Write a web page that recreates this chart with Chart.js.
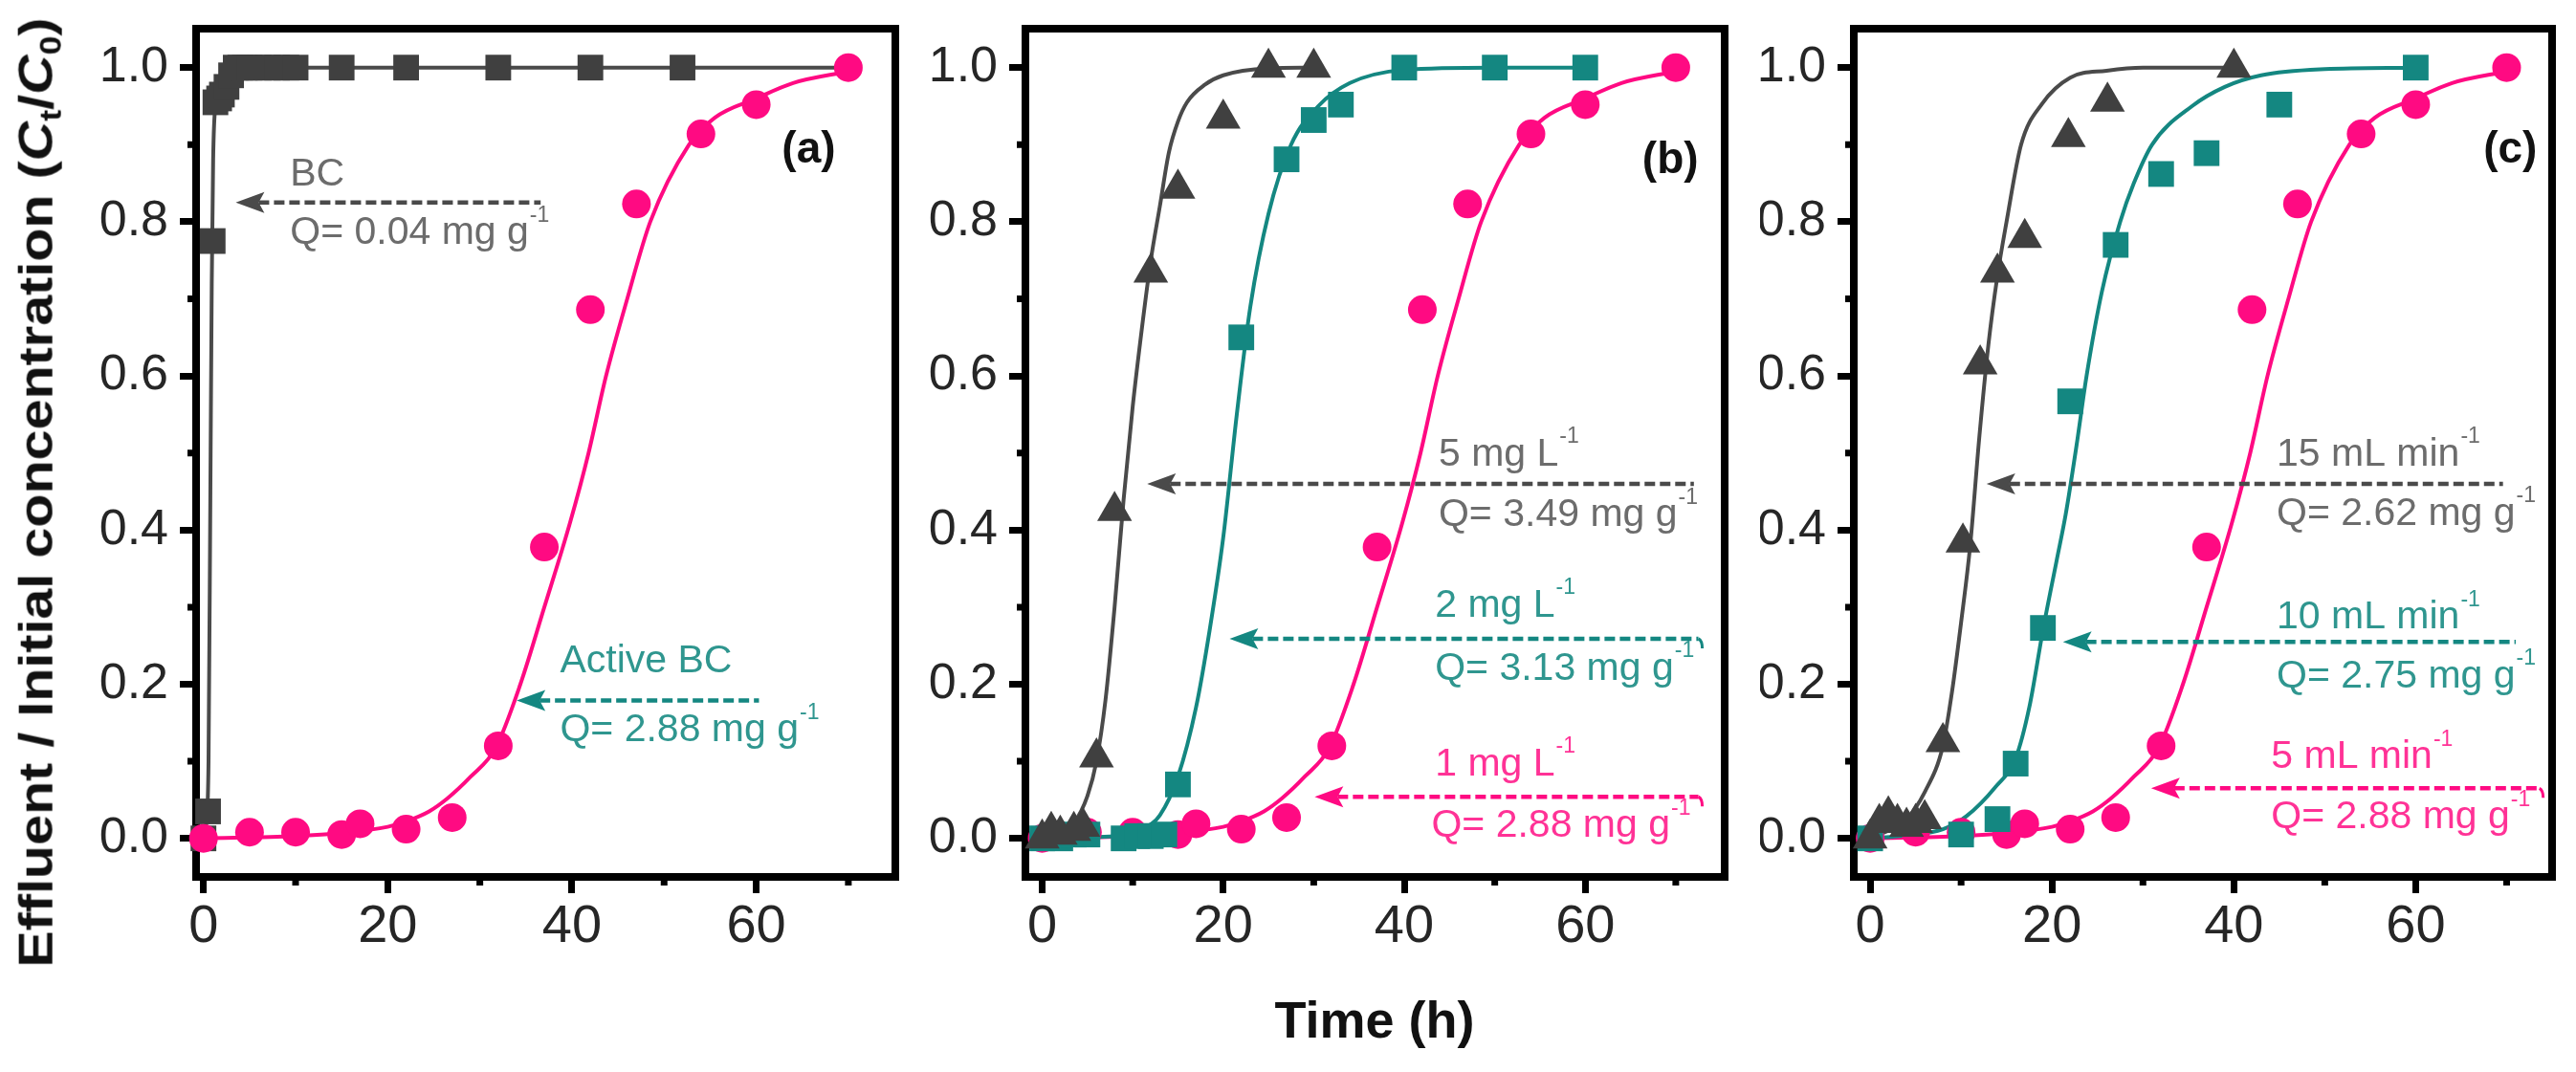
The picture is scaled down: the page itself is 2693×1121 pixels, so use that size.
<!DOCTYPE html>
<html>
<head>
<meta charset="utf-8">
<script src="https://cdn.jsdelivr.net/npm/chart.js@4.4.1/dist/chart.umd.min.js"></script>
<style>
  html, body { margin: 0; padding: 0; background: #fff; }
  #page { position: relative; width: 2693px; height: 1121px; overflow: hidden; background: #fff; }
  canvas { position: absolute; top: 0; }
  .title { position: absolute; white-space: nowrap; font-family: 'Liberation Sans', Arial, sans-serif; font-weight: bold; color: #111; }
  .title sub { font-size: 0.62em; vertical-align: -0.28em; }
  #ytitle { left: 40px; top: 515px; font-size: 50px; transform: translate(-50%, -50%) rotate(-90deg) scaleX(1.15); }
  #xtitle { left: 1437px; top: 1066px; font-size: 54px; transform: translate(-50%, -50%); }
</style>
</head>
<body>
<div id="page">
  <canvas id="pa" width="960" height="1121" style="left:0px"></canvas>
  <canvas id="pb" width="880" height="1121" style="left:960px"></canvas>
  <canvas id="pc" width="853" height="1121" style="left:1840px"></canvas>
  <div class="title" id="ytitle">Effluent / Initial concentration (<i>C</i><sub>t</sub>/<i>C</i><sub>0</sub>)</div>
  <div class="title" id="xtitle">Time (h)</div>
</div>
<script>
// axis ticks
const xTicks = [0, 10, 20, 30, 40, 50, 60, 70];
const yTicks = [0, 0.1, 0.2, 0.3, 0.4, 0.5, 0.6, 0.7, 0.8, 0.9, 1.0];

// Active BC / 1 mg L-1 / 5 mL min-1 (same run in all panels)
const pinkT = [0, 5, 10, 15, 17, 22, 27, 32, 37, 42, 47, 54, 60, 70];
const pinkC = [0, 0.008, 0.008, 0.005, 0.019, 0.012, 0.027, 0.12, 0.378, 0.686, 0.823, 0.914, 0.952, 1.0];
const pinkFitT = [0, 10, 15, 20, 22, 24.5, 26.5, 29, 31.7, 34.4, 37, 39.8, 41.8, 43.7, 46, 48.5, 52.7, 55.5, 60, 64, 70];
const pinkFitC = [0, 0.003, 0.007, 0.015, 0.022, 0.035, 0.052, 0.08, 0.117, 0.2, 0.3, 0.41, 0.5, 0.6, 0.7, 0.8, 0.9, 0.935, 0.96, 0.98, 0.995];

// (a) plain BC
const bcT = [0, 0.5, 1, 1.3, 1.7, 2, 2.5, 3, 3.5, 4, 4.5, 5, 6, 7, 8, 9, 10, 15, 22, 32, 42, 52];
const bcC = [0, 0.035, 0.775, 0.955, 0.96, 0.965, 0.975, 0.99, 1, 1, 1, 1, 1, 1, 1, 1, 1, 1, 1, 1, 1, 1];
const bcFitT = [0, 0.3, 0.55, 0.75, 0.9, 1.05, 1.3, 1.8, 2.5, 3.2, 4, 70];
const bcFitC = [0, 0.02, 0.1, 0.45, 0.72, 0.88, 0.95, 0.965, 0.98, 0.995, 1, 1];

// (b) 5 mg L-1
const b5T = [0, 1, 2, 3.5, 4.5, 6, 8, 12, 15, 20, 25, 30];
const b5C = [0, 0.01, 0.005, 0.01, 0.015, 0.105, 0.425, 0.734, 0.843, 0.934, 1.0, 1.0];
const b5FitT = [0, 2, 3.5, 5, 6, 7, 8, 9, 10, 11, 12, 13, 14, 15, 16, 18, 20, 25, 30];
const b5FitC = [0.002, 0.008, 0.02, 0.055, 0.1, 0.18, 0.3, 0.44, 0.56, 0.66, 0.75, 0.82, 0.89, 0.93, 0.955, 0.978, 0.99, 0.999, 1.0];
// (b) 2 mg L-1
const b2T = [0, 2, 3.5, 5, 9, 10.5, 12, 13.5, 15, 22, 27, 30, 33, 40, 50, 60];
const b2C = [0, 0, 0.005, 0.005, 0, 0.003, 0.003, 0.005, 0.07, 0.65, 0.881, 0.932, 0.952, 1, 1, 1];
const b2FitT = [0, 8, 11, 13, 15, 17, 18.5, 20, 21.5, 23, 25, 27.5, 30.5, 34, 40, 50, 60];
const b2FitC = [0, 0.003, 0.012, 0.03, 0.08, 0.17, 0.27, 0.39, 0.55, 0.69, 0.81, 0.9, 0.95, 0.98, 0.997, 1.0, 1.0];

// (c) 15 mL min-1
const c15T = [0, 1, 2, 3, 4, 5, 6, 8, 10.2, 12.1, 14, 17, 21.8, 26.1, 40];
const c15C = [0, 0.02, 0.03, 0.02, 0.015, 0.02, 0.025, 0.125, 0.384, 0.615, 0.734, 0.779, 0.91, 0.956, 1.0];
const c15FitT = [0, 2, 4, 6, 8, 9, 10, 11, 12, 13, 14, 15, 16.6, 18.9, 22, 26, 30, 40];
const c15FitC = [0.002, 0.01, 0.025, 0.06, 0.12, 0.19, 0.28, 0.38, 0.52, 0.64, 0.73, 0.8, 0.9, 0.953, 0.987, 0.996, 1.0, 1.0];
// (c) 10 mL min-1
const c10T = [0, 10, 14, 16, 19, 22, 27, 32, 37, 45, 60];
const c10C = [0, 0.005, 0.025, 0.097, 0.273, 0.567, 0.77, 0.862, 0.889, 0.952, 1.0];
const c10FitT = [0, 4, 8, 10.6, 13.8, 16, 17.5, 19, 20.5, 21.5, 22.7, 23.8, 25.5, 27.5, 29, 31, 35.4, 39, 43, 50, 60];
const c10FitC = [0, 0.004, 0.012, 0.029, 0.067, 0.104, 0.17, 0.27, 0.36, 0.42, 0.51, 0.6, 0.71, 0.8, 0.85, 0.9, 0.95, 0.975, 0.99, 0.998, 1.0];

const FONT = "'Liberation Sans', Arial, sans-serif";
const GRAY = '#404040', GRAY_LN = '#4a4a4a', TEAL = '#148781', PINK = '#ff0a82';
const GRAY_TX = '#6c6c6c', TEAL_TX = '#2f968f', PINK_TX = '#ff3296';

const pts = (xs, ys) => xs.map((x, i) => ({ x: x, y: ys[i] }));

function marks(xs, ys, color, style, r) {
  return { data: pts(xs, ys), pointStyle: style, pointRadius: r, pointBackgroundColor: color,
           pointBorderWidth: 0, showLine: false, order: 0, clip: false };
}
function fit(xs, ys, color) {
  return { data: pts(xs, ys), borderColor: color, borderWidth: 4, pointRadius: 0, showLine: true,
           cubicInterpolationMode: 'monotone', order: 1, clip: false };
}

// arrows, labels and panel letters
const notesA = [
  { text: 'BC', x: 9.4, y: 0.861, color: GRAY_TX },
  { arrow: true, x1: 3.5, x2: 36.6, y: 0.825, color: GRAY_LN },
  { text: 'Q= 0.04 mg g', sup: '-1', x: 9.4, y: 0.785, color: GRAY_TX },
  { text: '(a)', bold: true, x: 65.7, y: 0.892, color: '#111' },
  { text: 'Active BC', x: 38.7, y: 0.229, color: TEAL_TX },
  { arrow: true, x1: 34, x2: 60.3, y: 0.179, color: TEAL },
  { text: 'Q= 2.88 mg g', sup: '-1', x: 38.7, y: 0.14, color: TEAL_TX }
];
const notesB = [
  { text: '5 mg L', sup: '-1', x: 43.8, y: 0.498, color: GRAY_TX },
  { arrow: true, x1: 11.6, x2: 72, y: 0.46, color: GRAY_LN },
  { text: 'Q= 3.49 mg g', sup: '-1', x: 43.8, y: 0.419, color: GRAY_TX },
  { text: '2 mg L', sup: '-1', x: 43.4, y: 0.302, color: TEAL_TX },
  { arrow: true, x1: 20.7, x2: 72.5, y: 0.259, color: TEAL, hook: true },
  { text: 'Q= 3.13 mg g', sup: '-1', x: 43.4, y: 0.22, color: TEAL_TX },
  { text: '1 mg L', sup: '-1', x: 43.4, y: 0.096, color: PINK_TX },
  { arrow: true, x1: 30.1, x2: 72.5, y: 0.054, color: PINK, hook: true },
  { text: 'Q= 2.88 mg g', sup: '-1', x: 43, y: 0.016, color: PINK_TX },
  { text: '(b)', bold: true, x: 69.4, y: 0.879, color: '#111' }
];
const notesC = [
  { text: '15 mL min', sup: '-1', x: 44.7, y: 0.498, color: GRAY_TX },
  { arrow: true, x1: 12.8, x2: 69.6, y: 0.46, color: GRAY_LN },
  { text: 'Q= 2.62 mg g', sup: '-1', x: 44.7, y: 0.421, color: GRAY_TX },
  { text: '10 mL min', sup: '-1', x: 44.7, y: 0.286, color: TEAL_TX },
  { arrow: true, x1: 21.2, x2: 71, y: 0.255, color: TEAL },
  { text: 'Q= 2.75 mg g', sup: '-1', x: 44.7, y: 0.21, color: TEAL_TX },
  { text: '5 mL min', sup: '-1', x: 44.1, y: 0.105, color: PINK_TX },
  { arrow: true, x1: 30.9, x2: 73.6, y: 0.065, color: PINK, hook: true },
  { text: 'Q= 2.88 mg g', sup: '-1', x: 44.1, y: 0.027, color: PINK_TX },
  { text: '(c)', bold: true, x: 70.4, y: 0.892, color: '#111' }
];

const isMajorX = v => Math.abs(v % 20) < 1e-6;
const isMajorY = v => Math.round(v * 10) % 2 === 0;

// frame, short minor ticks and the annotations
const panelDeco = {
  id: 'deco',
  beforeDatasetsDraw(chart) {
    const { ctx, chartArea: a, scales } = chart;
    ctx.save();
    ctx.strokeStyle = '#000';
    ctx.lineWidth = 8;
    ctx.strokeRect(a.left, a.top, a.right - a.left, a.bottom - a.top);
    ctx.lineWidth = 7;
    ctx.beginPath();
    scales.x.ticks.forEach(t => {
      if (isMajorX(t.value)) return;
      const px = scales.x.getPixelForValue(t.value);
      ctx.moveTo(px, a.bottom); ctx.lineTo(px, a.bottom + 9);
    });
    scales.y.ticks.forEach(t => {
      if (isMajorY(t.value)) return;
      const py = scales.y.getPixelForValue(t.value);
      ctx.moveTo(a.left - 9, py); ctx.lineTo(a.left, py);
    });
    ctx.stroke();
    ctx.restore();
  },
  afterDatasetsDraw(chart, args, opts) {
    const { ctx, scales } = chart;
    ctx.save();
    (opts.items || []).forEach(n => {
      const px = scales.x.getPixelForValue(n.x !== undefined ? n.x : n.x1);
      const py = scales.y.getPixelForValue(n.y);
      if (n.arrow) {
        const head = px, tail = scales.x.getPixelForValue(n.x2);
        ctx.fillStyle = n.color; ctx.strokeStyle = n.color;
        ctx.beginPath();
        ctx.moveTo(head, py); ctx.lineTo(head + 30, py - 11); ctx.lineTo(head + 24, py); ctx.lineTo(head + 30, py + 11);
        ctx.closePath(); ctx.fill();
        ctx.lineWidth = 4.5;
        ctx.setLineDash([11, 5]);
        ctx.beginPath();
        ctx.moveTo(head + 24, py); ctx.lineTo(tail, py);
        ctx.stroke();
        ctx.setLineDash([]);
        if (n.hook) {
          ctx.lineWidth = 3;
          ctx.beginPath(); ctx.moveTo(tail, py); ctx.quadraticCurveTo(tail + 4, py + 2, tail + 4, py + 10); ctx.stroke();
        }
        return;
      }
      const size = n.bold ? 46 : 41;
      ctx.font = (n.bold ? 'bold ' : '') + size + 'px ' + FONT;
      ctx.fillStyle = n.color;
      ctx.textBaseline = 'middle';
      ctx.textAlign = n.bold ? 'center' : 'left';
      ctx.fillText(n.text, px, py);
      if (n.sup) {
        const w = ctx.measureText(n.text).width;
        ctx.font = Math.round(size * 0.55) + 'px ' + FONT;
        ctx.textAlign = 'left';
        ctx.fillText(n.sup, px + w + 1, py - size * 0.45);
      }
    });
    ctx.restore();
  }
};

function makePanel(id, p) {
  return new Chart(document.getElementById(id), {
    type: 'scatter',
    data: { datasets: p.datasets },
    options: {
      responsive: false,
      animation: false,
      devicePixelRatio: 1,
      layout: { padding: { left: 0, right: p.padRight, top: 30, bottom: 0 } },
      plugins: { legend: { display: false }, tooltip: { enabled: false }, deco: { items: p.notes } },
      scales: {
        x: {
          type: 'linear', min: p.xMin, max: p.xMax,
          afterBuildTicks: s => { s.ticks = xTicks.map(v => ({ value: v })); },
          afterFit: s => { s.height = 204; s.paddingLeft = 0; s.paddingRight = 0; },
          border: { display: false },
          grid: { drawOnChartArea: false, drawTicks: true, tickLength: 17, tickWidth: 7,
                  tickColor: c => (c.tick && isMajorX(c.tick.value)) ? '#000' : 'rgba(0,0,0,0)' },
          ticks: { padding: 2, color: '#262626', maxRotation: 0, autoSkip: false,
                   font: { family: FONT, size: 56 },
                   callback: v => isMajorX(v) ? String(v) : '' }
        },
        y: {
          type: 'linear', min: -0.05, max: 1.0505,
          afterBuildTicks: s => { s.ticks = yTicks.map(v => ({ value: v })); },
          afterFit: s => { s.width = p.axisLeft; s.paddingTop = 0; s.paddingBottom = 0; },
          border: { display: false },
          grid: { drawOnChartArea: false, drawTicks: true, tickLength: 17, tickWidth: 7,
                  tickColor: c => (c.tick && isMajorY(c.tick.value)) ? '#000' : 'rgba(0,0,0,0)' },
          ticks: { padding: 12, color: '#262626', autoSkip: false,
                   font: { family: FONT, size: 52 },
                   callback: v => isMajorY(v) ? v.toFixed(1) : '' }
        }
      }
    },
    plugins: [panelDeco]
  });
}

makePanel('pa', {
  xMin: -0.8, xMax: 75.1, axisLeft: 205, padRight: 24, notes: notesA,
  datasets: [
    marks(pinkT, pinkC, PINK, 'circle', 15),
    marks(bcT, bcC, GRAY, 'rect', 19),
    fit(pinkFitT, pinkFitC, PINK),
    fit(bcFitT, bcFitC, GRAY_LN)
  ]
});

makePanel('pb', {
  xMin: -1.85, xMax: 75.4, axisLeft: 112, padRight: 37, notes: notesB,
  datasets: [
    marks(b5T, b5C, GRAY, 'triangle', 21),
    marks(b2T, b2C, TEAL, 'rect', 19),
    marks(pinkT, pinkC, PINK, 'circle', 15),
    fit(b5FitT, b5FitC, GRAY_LN),
    fit(b2FitT, b2FitC, TEAL),
    fit(pinkFitT, pinkFitC, PINK)
  ]
});

makePanel('pc', {
  xMin: -1.8, xMax: 75, axisLeft: 98, padRight: 25, notes: notesC,
  datasets: [
    marks(c15T, c15C, GRAY, 'triangle', 21),
    marks(c10T, c10C, TEAL, 'rect', 19),
    marks(pinkT, pinkC, PINK, 'circle', 15),
    fit(c15FitT, c15FitC, GRAY_LN),
    fit(c10FitT, c10FitC, TEAL),
    fit(pinkFitT, pinkFitC, PINK)
  ]
});
</script>
</body>
</html>
